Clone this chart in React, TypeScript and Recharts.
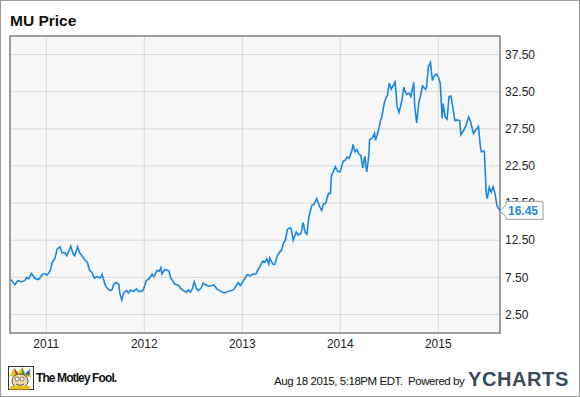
import React from 'react';
import { LineChart, Line, XAxis, YAxis, CartesianGrid, ReferenceArea } from 'recharts';

// dates as fractional years, prices in USD
const dates = [
  2010.64, 2010.68, 2010.71, 2010.75, 2010.78, 2010.8, 2010.82, 2010.85, 2010.88, 2010.91,
  2010.93, 2010.96, 2010.98, 2011.01, 2011.04, 2011.06, 2011.09, 2011.11, 2011.14, 2011.16,
  2011.19, 2011.21, 2011.25, 2011.27, 2011.29, 2011.32, 2011.34, 2011.36, 2011.39, 2011.42,
  2011.44, 2011.47, 2011.49, 2011.52, 2011.55, 2011.57, 2011.6, 2011.62, 2011.65, 2011.67,
  2011.69, 2011.71, 2011.74, 2011.75, 2011.77, 2011.79, 2011.82, 2011.84, 2011.86, 2011.89,
  2011.92, 2011.94, 2011.97, 2011.99, 2012.02, 2012.05, 2012.08, 2012.1, 2012.13, 2012.15,
  2012.17, 2012.18, 2012.21, 2012.25, 2012.27, 2012.29, 2012.31, 2012.35, 2012.37, 2012.4,
  2012.43, 2012.45, 2012.47, 2012.49, 2012.51, 2012.53, 2012.55, 2012.58, 2012.6, 2012.64,
  2012.66, 2012.69, 2012.71, 2012.74, 2012.77, 2012.8, 2012.82, 2012.85, 2012.87, 2012.91,
  2012.94, 2012.96, 2012.98, 2013.0, 2013.03, 2013.05, 2013.08, 2013.11, 2013.14, 2013.16,
  2013.19, 2013.21, 2013.23, 2013.25, 2013.27, 2013.28, 2013.31, 2013.33, 2013.36, 2013.39,
  2013.4, 2013.42, 2013.44, 2013.46, 2013.49, 2013.5, 2013.52, 2013.55, 2013.57, 2013.6,
  2013.62, 2013.64, 2013.66, 2013.68, 2013.71, 2013.73, 2013.76, 2013.79, 2013.81, 2013.83,
  2013.85, 2013.88, 2013.9, 2013.91, 2013.95, 2013.97, 2014.0, 2014.03, 2014.05, 2014.07,
  2014.09, 2014.12, 2014.13, 2014.15, 2014.17, 2014.19, 2014.21, 2014.23, 2014.25, 2014.27,
  2014.29, 2014.3, 2014.33, 2014.35, 2014.36, 2014.39, 2014.41, 2014.42, 2014.45, 2014.47,
  2014.48, 2014.5, 2014.52, 2014.54, 2014.56, 2014.58, 2014.6, 2014.63, 2014.65, 2014.66,
  2014.68, 2014.7, 2014.72, 2014.75, 2014.76, 2014.78, 2014.8, 2014.82, 2014.84, 2014.87,
  2014.88, 2014.9, 2014.92, 2014.94, 2014.96, 2014.98, 2015.0, 2015.02, 2015.04, 2015.05,
  2015.07, 2015.09, 2015.11, 2015.13, 2015.15, 2015.17, 2015.19, 2015.22, 2015.23, 2015.26,
  2015.28, 2015.31, 2015.33, 2015.36, 2015.38, 2015.41, 2015.43, 2015.44, 2015.47, 2015.49,
  2015.5, 2015.52, 2015.54, 2015.56, 2015.58, 2015.6, 2015.63,
];

const prices = [
  7.2, 6.5, 7.05, 6.9, 7.05, 7.5, 7.3, 8.0, 7.4, 7.2,
  7.3, 7.9, 8.0, 7.8, 8.4, 9.5, 10.1, 11.3, 11.6, 10.8,
  10.8, 10.4, 11.7, 10.8, 10.4, 11.6, 10.8, 10.5, 9.9, 9.5,
  8.5, 8.1, 7.4, 7.6, 7.4, 7.9, 6.5, 6.05, 5.7, 5.8,
  6.6, 6.8, 6.6, 5.4, 4.45, 5.4, 5.7, 5.4, 5.8, 5.6,
  5.95, 5.6, 5.6, 5.8, 7.05, 7.3, 7.9, 7.6, 8.4, 8.3,
  8.8, 7.95, 8.55, 8.4, 7.4, 7.05, 6.6, 6.4, 6.05, 5.7,
  5.5, 5.8, 5.5, 5.95, 6.9, 6.05, 5.7, 6.05, 6.7, 6.4,
  6.3, 6.4, 6.5, 5.95, 5.7, 5.5, 5.4, 5.6, 5.65, 5.8,
  6.4, 6.8, 6.4, 6.8, 7.4, 7.85, 7.7, 7.95, 7.95, 8.5,
  9.2, 9.7, 9.55, 10.0, 9.3, 10.1, 9.3, 9.2, 10.45, 11.05,
  11.1, 12.1, 12.5, 13.95, 14.2, 13.95, 12.5, 13.6, 13.2, 13.4,
  14.9, 13.6, 13.3, 15.7, 17.2, 17.3, 18.1, 17.0, 16.5, 17.4,
  17.45, 18.8, 18.8, 21.2, 22.4, 21.8, 21.7, 23.15, 23.25, 23.7,
  23.5, 24.6, 25.4, 24.4, 24.7, 24.1, 23.9, 22.25, 23.8, 21.7,
  23.7, 26.05, 26.3, 26.9, 25.95, 27.3, 28.6, 28.9, 31.0, 31.8,
  31.9, 33.65, 32.85, 33.3, 33.8, 30.5, 29.7, 31.4, 33.1, 32.6,
  32.1, 32.3, 31.85, 33.75, 30.5, 28.3, 30.9, 32.05, 33.3, 32.8,
  33.1, 35.9, 36.45, 34.0, 34.65, 34.9, 34.5, 33.65, 28.9, 30.9,
  29.1, 28.8, 31.85, 31.9, 30.3, 28.6, 28.7, 28.6, 26.7, 27.3,
  27.85, 29.1, 28.45, 26.85, 27.3, 27.8, 25.05, 24.4, 24.5, 18.7,
  18.1, 19.6, 18.95, 19.7, 18.7, 17.1, 16.45,
];

const yearTicks = [2011, 2012, 2013, 2014, 2015];
const priceTicks = [2.5, 7.5, 12.5, 17.5, 22.5, 27.5, 32.5, 37.5];
const xDomain = [2010.63, 2015.63];
const yDomain = [0, 40];

const data = dates.map((d, i) => ({ t: d, price: prices[i] }));

const FONT = '"Liberation Sans", Arial, sans-serif';
const BLUE = '#1a87e4';

// callout box on the last value
const LastLabel = (props: any) => {
  const { x, y, index, value } = props;
  if (index !== data.length - 1) return null;
  const bx = x + 6;
  return (
    <g>
      <path
        d={`M${x},${y} L${bx},${y - 6} L${bx},${y - 9.5} L${bx + 37},${y - 9.5} L${bx + 37},${y + 8.5} L${bx},${y + 8.5} L${bx},${y + 6} Z`}
        fill="#fff"
        stroke="#999"
        strokeWidth={1}
      />
      <text x={bx + 2} y={y + 4} fill={BLUE} fontSize={12} fontWeight="bold" fontFamily={FONT}>
        {Number(value).toFixed(2)}
      </text>
    </g>
  );
};

const FoolLogo = () => (
  <svg width={26} height={24} viewBox="0 0 26 24">
    <rect x={0.5} y={0.5} width={25} height={23} fill="#fff" stroke="#333" />
    <path d="M2,10 L6,2 L10,7 L14,1 L17,8 L22,3 L23,11 Z" fill="#e8c21c" />
    <path d="M6,2 L10,7 L8,9 Z" fill="#d42a2a" />
    <path d="M14,1 L17,8 L14,9 Z" fill="#2a9a3a" />
    <path d="M17,8 L22,3 L21,10 Z" fill="#2a62c4" />
    <ellipse cx={12} cy={15} rx={8} ry={7} fill="#f3d9a8" stroke="#333" strokeWidth={0.8} />
    <circle cx={9} cy={13} r={2} fill="#fff" stroke="#333" strokeWidth={0.6} />
    <circle cx={14} cy={13} r={2} fill="#fff" stroke="#333" strokeWidth={0.6} />
    <path d="M8,18 Q12,21 16,18" fill="none" stroke="#333" strokeWidth={0.8} />
    <rect x={2} y={20} width={20} height={3.5} fill="#e8c21c" />
  </svg>
);

export default function App() {
  return (
    <div
      style={{
        position: 'fixed',
        left: 0,
        top: 0,
        width: 580,
        height: 397,
        background: '#fff',
        fontFamily: FONT,
        overflow: 'hidden',
      }}
    >
      <div
        style={{
          position: 'absolute',
          left: 10,
          top: 12,
          fontSize: 15.5,
          fontWeight: 'bold',
          color: '#111',
        }}
      >
        MU Price
      </div>

      <div style={{ position: 'absolute', left: 0, top: 0 }}>
        <LineChart
          width={580}
          height={397}
          data={data}
          margin={{ top: 36, right: 10, bottom: 34, left: 10 }}
        >
          <CartesianGrid
            stroke="#d8d8d8"
            strokeWidth={1}
            fill="#f7f7f7"
            horizontalValues={priceTicks}
            verticalValues={yearTicks}
          />
          <ReferenceArea
            x1={xDomain[0]}
            x2={xDomain[1]}
            y1={yDomain[0]}
            y2={yDomain[1]}
            fill="none"
            stroke="#808080"
            strokeWidth={1.5}
            ifOverflow="visible"
          />
          <XAxis
            dataKey="t"
            type="number"
            domain={xDomain}
            ticks={yearTicks}
            height={30}
            axisLine={false}
            tickLine={false}
            tickSize={0}
            tickMargin={6}
            tick={{ fill: '#222', fontSize: 12, fontFamily: FONT }}
            allowDataOverflow
          />
          <YAxis
            orientation="right"
            type="number"
            domain={yDomain}
            ticks={priceTicks}
            width={70}
            axisLine={false}
            tickLine={false}
            tickSize={0}
            tickMargin={5}
            tickFormatter={(v: number) => v.toFixed(2)}
            tick={{ fill: '#222', fontSize: 12, fontFamily: FONT, textAnchor: 'start' }}
            allowDataOverflow
          />
          <Line
            type="linear"
            dataKey="price"
            stroke={BLUE}
            strokeWidth={1.6}
            dot={false}
            isAnimationActive={false}
            label={<LastLabel />}
          />
        </LineChart>
      </div>

      <div style={{ position: 'absolute', left: 8, top: 366 }}>
        <FoolLogo />
      </div>
      <div
        style={{
          position: 'absolute',
          left: 36,
          top: 371,
          fontSize: 12,
          fontWeight: 'bold',
          color: '#111',
          letterSpacing: -0.9,
          whiteSpace: 'nowrap',
        }}
      >
        The Motley Fool.
      </div>
      <div
        style={{
          position: 'absolute',
          left: 274,
          top: 375,
          fontSize: 11.5,
          color: '#111',
          letterSpacing: -0.45,
          whiteSpace: 'nowrap',
        }}
      >
        Aug 18 2015, 5:18PM EDT.&nbsp; Powered by
      </div>
      <div
        style={{
          position: 'absolute',
          left: 468,
          top: 368,
          fontSize: 20,
          fontWeight: 'bold',
          color: '#3a4a5a',
          letterSpacing: 0.6,
        }}
      >
        YCHARTS
      </div>

      <div
        style={{
          position: 'absolute',
          left: 0,
          top: 0,
          width: 580,
          height: 397,
          boxSizing: 'border-box',
          border: '1.5px solid #9a9a9a',
          pointerEvents: 'none',
        }}
      />
    </div>
  );
}
